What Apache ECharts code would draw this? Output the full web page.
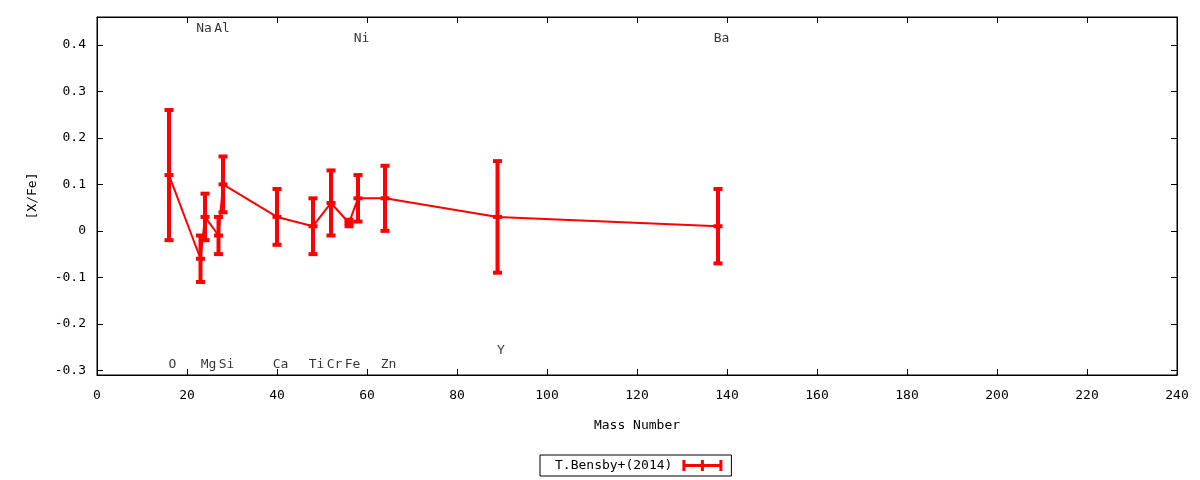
<!DOCTYPE html>
<html>
<head>
<meta charset="utf-8">
<script src="https://cdn.jsdelivr.net/npm/echarts@6/dist/echarts.min.js"></script>
<style>html,body{margin:0;padding:0;background:#fff}#c{width:1200px;height:480px}</style>
</head>
<body>
<div id="c"></div>
<script>
const massNumbers = [16, 23, 24, 27, 28, 40, 48, 52, 56, 58, 64, 89, 138];
const abundances  = [0.12, -0.06, 0.03, -0.01, 0.10, 0.03, 0.01, 0.06, 0.017, 0.07, 0.07, 0.03, 0.01];
const errors      = [0.14, 0.05, 0.05, 0.04, 0.06, 0.06, 0.06, 0.07, 0.007, 0.05, 0.07, 0.12, 0.08];
const labelText   = ['O', 'Na', 'Mg', 'Al', 'Si', 'Ca', 'Ti', 'Cr', 'Fe', 'Ni', 'Zn', 'Y', 'Ba'];
const labelY      = [-0.288, 0.435, -0.288, 0.435, -0.288, -0.288, -0.288, -0.288, -0.288, 0.413, -0.288, -0.257, 0.413];
const yTicks = [-0.3, -0.2, -0.1, 0, 0.1, 0.2, 0.3, 0.4];
const seriesName = 'T.Bensby+(2014)';

const FONT = 'DejaVu Sans Mono';
const RED = '#ff0000';

const chart = echarts.init(document.getElementById('c'));
const yFmt = v => (Math.abs(v) < 1e-9 ? '0' : (Math.round(v * 10) / 10).toFixed(1));

const tickStyle = {show: true, inside: true, length: 6, lineStyle: {color: '#000', width: 1}};

chart.setOption({
  animation: false,
  grid: {left: 97, right: 23, top: 17, bottom: 105, show: true, borderColor: '#000', borderWidth: 1},
  legend: {
    data: [{name: seriesName, icon: 'path://M0,4H40V7H0Z M0,0H3V11H0Z M18.5,0H21.5V11H18.5Z M37,0H40V11H37Z'}],
    left: 540, top: 455, align: 'right',
    itemWidth: 40, itemHeight: 11,
    padding: [4, 9, 4, 15],
    borderColor: '#000', borderWidth: 1, borderRadius: 0,
    textStyle: {fontFamily: FONT, fontSize: 13, color: '#000', padding: [0, 5, 0, 0]},
    itemStyle: {color: RED}
  },
  xAxis: [{
    type: 'value', min: 0, max: 240, interval: 20,
    name: 'Mass Number', nameLocation: 'middle', nameGap: 44,
    nameTextStyle: {fontFamily: FONT, fontSize: 13, color: '#000'},
    axisLine: {show: true, onZero: false, lineStyle: {color: '#000'}},
    axisTick: tickStyle,
    axisLabel: {fontFamily: FONT, fontSize: 13, color: '#000', margin: 14},
    splitLine: {show: false}
  }, {
    type: 'value', min: 0, max: 240, interval: 20, position: 'top',
    axisLine: {show: true, onZero: false, lineStyle: {color: '#000'}},
    axisTick: tickStyle, axisLabel: {show: false}, splitLine: {show: false}
  }],
  yAxis: [{
    type: 'value', min: -0.31, max: 0.46,
    name: '[X/Fe]', nameLocation: 'middle', nameGap: 58, nameRotate: 90,
    nameTextStyle: {fontFamily: FONT, fontSize: 13, color: '#000'},
    axisLine: {show: true, onZero: false, lineStyle: {color: '#000'}},
    axisTick: Object.assign({customValues: yTicks}, tickStyle),
    axisLabel: {customValues: yTicks, formatter: yFmt, fontFamily: FONT, fontSize: 13, color: '#000', margin: 11},
    splitLine: {show: false}
  }, {
    type: 'value', min: -0.31, max: 0.46, position: 'right',
    axisLine: {show: true, onZero: false, lineStyle: {color: '#000'}},
    axisTick: Object.assign({customValues: yTicks}, tickStyle),
    axisLabel: {show: false, customValues: yTicks}, splitLine: {show: false}
  }],
  series: [{
    name: seriesName, type: 'line',
    data: massNumbers.map((m, i) => [m, abundances[i]]),
    symbol: 'none', lineStyle: {color: RED, width: 2}, itemStyle: {color: RED},
    z: 2
  }, {
    name: 'errbars', type: 'custom',
    data: massNumbers.map((m, i) => [m, abundances[i], abundances[i] - errors[i], abundances[i] + errors[i]]),
    renderItem: (params, api) => {
      const x = api.value(0);
      const c = api.coord([x, api.value(1)]);
      const lo = api.coord([x, api.value(2)]);
      const hi = api.coord([x, api.value(3)]);
      const hw = 4.5;
      const st = {stroke: RED, lineWidth: 4};
      return {type: 'group', children: [
        {type: 'line', shape: {x1: c[0], y1: lo[1], x2: c[0], y2: hi[1]}, style: st},
        {type: 'line', shape: {x1: c[0] - hw, y1: lo[1], x2: c[0] + hw, y2: lo[1]}, style: st},
        {type: 'line', shape: {x1: c[0] - hw, y1: hi[1], x2: c[0] + hw, y2: hi[1]}, style: st},
        {type: 'line', shape: {x1: c[0] - hw, y1: c[1], x2: c[0] + hw, y2: c[1]}, style: st}
      ]};
    },
    z: 3
  }, {
    name: 'labels', type: 'scatter',
    data: massNumbers.map((m, i) => ({value: [m, labelY[i]], name: labelText[i]})),
    symbolSize: 1, itemStyle: {color: 'rgba(0,0,0,0)'},
    label: {show: true, position: 'inside', offset: [3.5, 0], formatter: p => p.name, fontFamily: FONT, fontSize: 13, color: '#000'},
    silent: true, z: 4
  }]
});
</script>
</body>
</html>
